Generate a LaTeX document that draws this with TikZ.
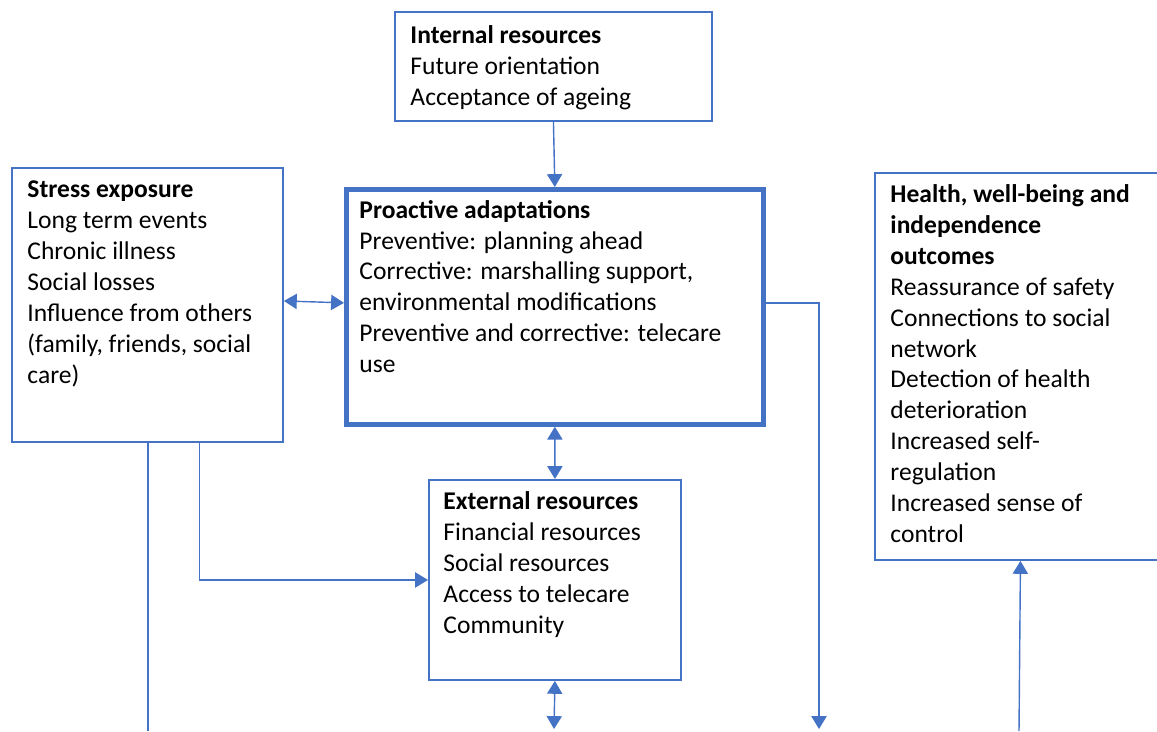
\documentclass[tikz,border=0pt]{standalone}
\usepackage{fontspec}
\setmainfont{Carlito}
\usetikzlibrary{arrows.meta}
\definecolor{officeblue}{HTML}{4472C4}
\begin{document}
\begin{tikzpicture}[x=0.015cm, y=-0.015cm,
    box/.style={draw=officeblue, line width=0.8pt, anchor=north west, inner sep=0pt},
    txt/.style={anchor=north west, align=left, inner sep=0pt, font=\fontsize{10.9}{13.2}\selectfont},
    link/.style={draw=officeblue, line width=0.6pt},
    tip/.style={-{Triangle[length=5.5pt, width=6.5pt]}},
    tips/.style={{Triangle[length=5.5pt, width=6.5pt]}-{Triangle[length=5.5pt, width=6.5pt]}}]
    \clip (0,0) rectangle (1157,731);
    % Boxes
    \node[box, minimum width=4.755cm, minimum height=1.635cm] (internal) at (394,11) {};
    \node[box, minimum width=4.065cm, minimum height=4.11cm] (stress) at (11,167) {};
    \node[box, line width=2pt, minimum width=6.255cm, minimum height=3.525cm] (proactive) at (344,187) {};
    \node[box, minimum width=3.78cm, minimum height=3.0cm] (external) at (428,479) {};
    \node[box, minimum width=4.365cm, minimum height=5.805cm] (health) at (874,172) {};
    % Texts
    \node[txt] (internal-txt) at ([xshift=0.24cm, yshift=-0.21cm]internal.north west)
        {\textbf{Internal resources}\\Future orientation\\Acceptance of ageing};
    \node[txt] (stress-txt) at ([xshift=0.24cm, yshift=-0.2cm]stress.north west)
        {\textbf{Stress exposure}\\Long term events\\Chronic illness\\Social losses\\Influence from others\\(family, friends, social\\care)};
    \node[txt] (proactive-txt) at ([xshift=0.225cm, yshift=-0.19cm]proactive.north west)
        {\textbf{Proactive adaptations}\\Preventive: planning ahead\\Corrective: marshalling support,\\environmental modifications\\Preventive and corrective: telecare\\use};
    \node[txt] (external-txt) at ([xshift=0.225cm, yshift=-0.18cm]external.north west)
        {\textbf{External resources}\\Financial resources\\Social resources\\Access to telecare\\Community};
    \node[txt] (health-txt) at ([xshift=0.24cm, yshift=-0.18cm]health.north west)
        {\textbf{Health, well-being and}\\\textbf{independence}\\\textbf{outcomes}\\Reassurance of safety\\Connections to social\\network\\Detection of health\\deterioration\\Increased self-\\regulation\\Increased sense of\\control};
    % Free ends at the bottom
    \coordinate (stress-end) at (148,731);
    \coordinate (external-end) at (554,729);
    \coordinate (proactive-end) at (819,729);
    \coordinate (health-start) at (1019,731);
    % Connectors
    \draw[link, tip] (internal.south) -- (proactive.north);
    \draw[link, tips] ([yshift=0.06cm]stress.east) -- ([yshift=0.06cm]proactive.west);
    \draw[link, tips] (proactive.south) -- (external.north);
    \draw[link, tips] (external.south) -- (external-end);
    \draw[link, tip] ([yshift=0.06cm]proactive.east) -| (proactive-end);
    \draw[link, tip] (health-start) -- (health.south);
    \draw[link] (stress.south -| stress-end) -- (stress-end);
    \draw[link, tip] ([xshift=0.78cm]stress.south) |- (external.west);
\end{tikzpicture}
\end{document}
